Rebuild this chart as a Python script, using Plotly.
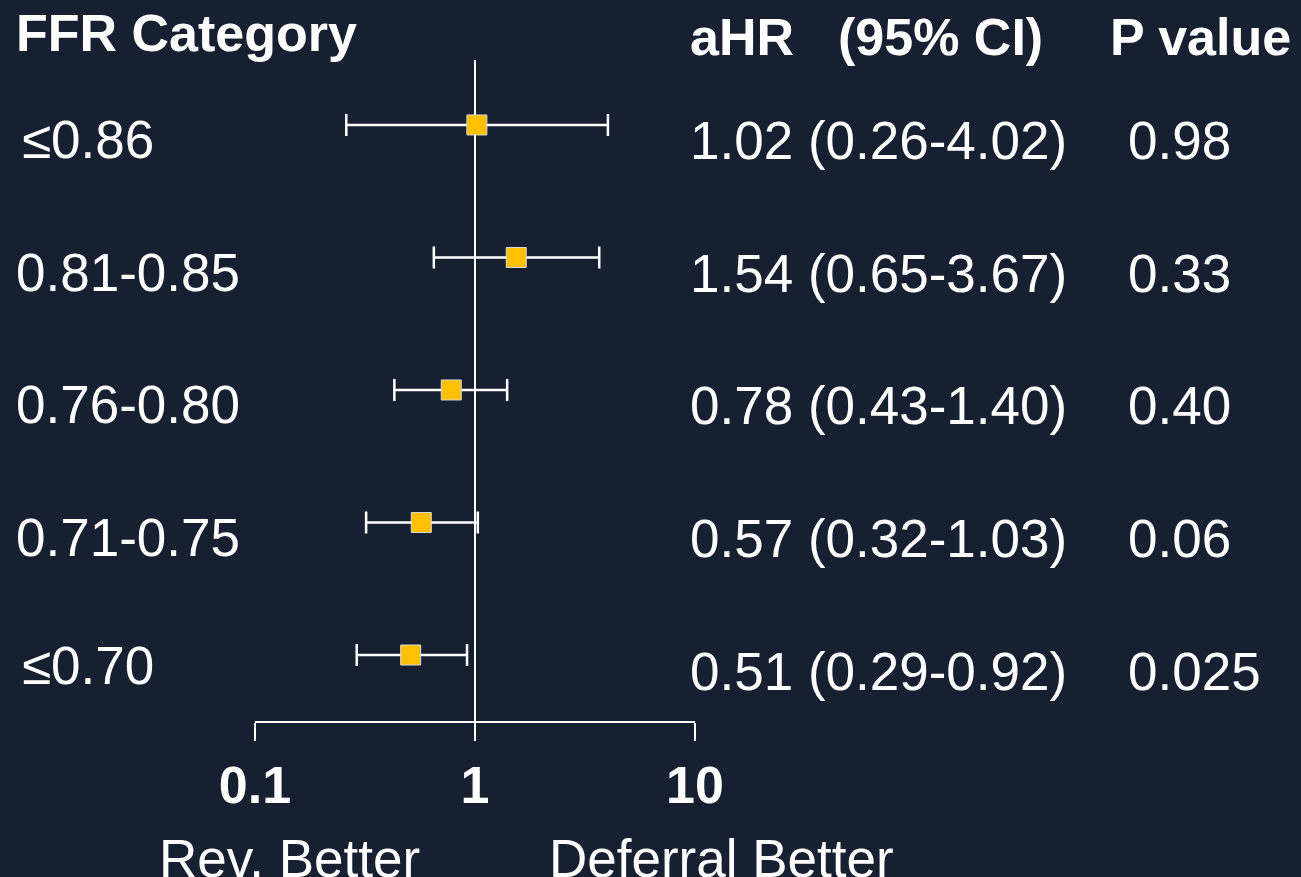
import plotly.graph_objects as go

# Forest plot data: adjusted hazard ratios by FFR category
categories = ["≤0.86", "0.81-0.85", "0.76-0.80", "0.71-0.75", "≤0.70"]
ahr = [1.02, 1.54, 0.78, 0.57, 0.51]
ci_low = [0.26, 0.65, 0.43, 0.32, 0.29]
ci_high = [4.02, 3.67, 1.40, 1.03, 0.92]
p_values = ["0.98", "0.33", "0.40", "0.06", "0.025"]
tick_vals = [0.1, 1, 10]
tick_text = ["<b>0.1</b>", "<b>1</b>", "<b>10</b>"]

BG = "#172030"
FONT = "Liberation Sans, Arial, sans-serif"
FS = 53
W, H = 1301, 877

rows = list(range(len(categories)))
ci_text = [f"{h:.2f} ({lo:.2f}-{hi:.2f})" for h, lo, hi in zip(ahr, ci_low, ci_high)]

fig = go.Figure()

# Reference line at HR = 1
fig.add_shape(type="line", xref="x", yref="y", x0=1, x1=1, y0=-0.49, y1=4.5,
              line=dict(color="white", width=2), layer="below")

fig.add_trace(go.Scatter(
    x=ahr, y=rows, mode="markers",
    marker=dict(symbol="square", size=20, color="#FFC000",
                line=dict(color="#d9d9d9", width=1)),
    error_x=dict(type="data", symmetric=False,
                 array=[h - a for h, a in zip(ci_high, ahr)],
                 arrayminus=[a - lo for a, lo in zip(ahr, ci_low)],
                 color="white", thickness=2.5, width=11),
    cliponaxis=False, showlegend=False, hoverinfo="skip",
))

ann = []
# Row labels and value columns
for i, (cat, ct, p) in enumerate(zip(categories, ci_text, p_values)):
    common = dict(xref="paper", yref="y", y=i, showarrow=False,
                  xanchor="left", yanchor="middle",
                  font=dict(family=FONT, size=FS, color="white"))
    last = i == len(categories) - 1
    lx = 20 if cat.startswith("≤") else 14
    ann.append(dict(text=cat, x=lx / W, yshift=-10 if last else -15, **common))
    ann.append(dict(text=ct, x=688 / W, yshift=-16, **common))
    ann.append(dict(text=p, x=1126 / W, yshift=-16, **common))

# Column headers
hdr = dict(xref="paper", yref="paper", showarrow=False, xanchor="left", yanchor="middle",
           font=dict(family=FONT, size=52, color="white"))
ann.append(dict(text="<b>FFR Category</b>", x=14 / W, y=1 - 33 / H, **hdr))
ann.append(dict(text="<b>aHR</b>", x=688 / W, y=1 - 37 / H, **hdr))
ann.append(dict(text="<b>(95% CI)</b>", x=836 / W, y=1 - 37 / H, **hdr))
ann.append(dict(text="<b>P value</b>", x=1108 / W, y=1 - 37 / H, **hdr))

# Direction labels under the axis
dl = dict(xref="paper", yref="paper", showarrow=False, xanchor="center", yanchor="middle",
          font=dict(family=FONT, size=FS, color="white"))
ann.append(dict(text="Rev. Better", x=289 / W, y=1 - 858 / H, **dl))
ann.append(dict(text="Deferral Better", x=721 / W, y=1 - 858 / H, **dl))

fig.update_layout(
    width=W, height=H,
    margin=dict(l=0, r=0, t=0, b=0, autoexpand=False),
    paper_bgcolor=BG, plot_bgcolor=BG,
    annotations=ann,
    xaxis=dict(type="log", range=[-1, 1], domain=[255 / W, 695 / W],
               automargin=False,
               showgrid=False, zeroline=False,
               showline=True, linecolor="white", linewidth=2,
               ticks="outside", ticklen=18, tickwidth=2, tickcolor="white",
               tickvals=tick_vals, ticktext=tick_text,
               tickfont=dict(family=FONT, size=52, color="white"),
               ticklabelstandoff=0),
    yaxis=dict(range=[4.498, -0.943], domain=[(H - 721) / H, 1],
               automargin=False,
               showgrid=False, zeroline=False, showline=False,
               showticklabels=False, ticks=""),
)

fig.write_html("out.html")
